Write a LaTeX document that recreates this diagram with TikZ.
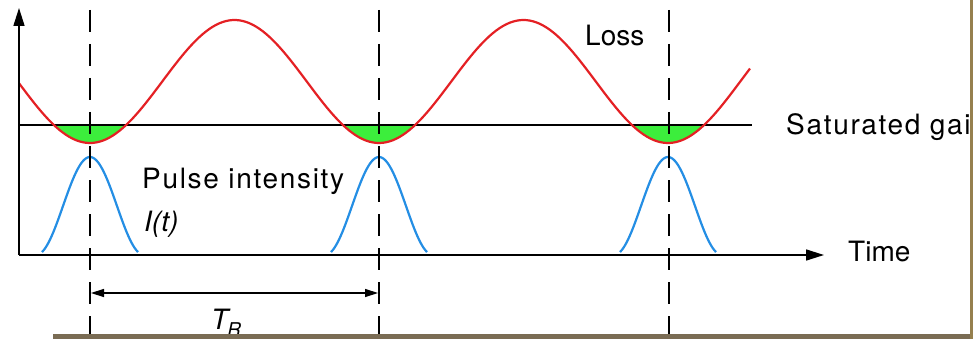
\documentclass[tikz,border=0pt]{standalone}
\usepackage{fontspec}
\setmainfont{TeX Gyre Heros}
\usepackage{tikz}
\usetikzlibrary{arrows.meta, positioning}

\definecolor{lossred}{RGB}{228,32,36}
\definecolor{pulseblue}{RGB}{36,142,228}
\definecolor{gaingreen}{RGB}{60,238,60}
\definecolor{bandbrown}{RGB}{122,108,84}
\definecolor{bandgold}{RGB}{150,128,78}

\begin{document}
\begin{tikzpicture}[x=1pt, y=-1pt, >={Triangle[length=18pt,width=11pt]},
    lbl/.style={font=\fontsize{28}{32}\selectfont, inner sep=0pt},
    widelbl/.style={lbl, font=\fontsize{28}{32}\selectfont\addfontfeatures{LetterSpace=6}},
    axis/.style={line width=1.6pt},
    curve/.style={line width=2.2pt},
    marker/.style={line width=1.4pt, dash pattern=on 22pt off 12pt}]
            \useasboundingbox (0,0) rectangle (973,339);

            \coordinate (O) at (19,255);
            \coordinate (ytop) at (19,8);
            \coordinate (xend) at (824,255);
            \coordinate (g1) at (19,125);
            \coordinate (g2) at (752,125);

            % gain windows
            \foreach \c in {90,379,668}
                \fill[gaingreen] plot[domain=\c-36.1:\c+36.1, samples=40]
                    (\x, {81.5+61.5*cos(1.24567*(\x-90))}) -- cycle;

            \draw[axis] (g1) -- (g2);
            \draw[curve, lossred] plot[domain=19:750, samples=220]
                (\x, {81.5+61.5*cos(1.24567*(\x-90))});

            \foreach \c in {90,379,668}
                \draw[curve, pulseblue] plot[domain=\c-48:\c+48, samples=60]
                    (\x, {255-98*cos(1.6667*(\x-\c))^2});

            \foreach \c [count=\i] in {90,379,669} {
                \coordinate (d\i) at (\c,10);
                \coordinate (e\i) at (\c,339);
                \draw[marker] (d\i) -- (e\i);
            }

            \draw[axis, ->] (O) -- (ytop);
            \draw[axis, ->] (O) -- (xend);

            \coordinate (tr1) at (91,293);
            \coordinate (tr2) at (378,293);
            \draw[line width=1.4pt, {Triangle[length=13pt,width=8pt]}-{Triangle[length=13pt,width=8pt]}] (tr1) -- (tr2);

            \node[lbl, anchor=base west] (loss) at (585,46) {Loss};
            \node[widelbl, anchor=base west] (gain) at (786,135) {Saturated gain};
            \node[widelbl, anchor=base west] (pulse) at (142,188) {Pulse intensity};
            \node[lbl, anchor=base west] (intens) at (144,231) {\textit{I(t)}};
            \node[lbl, anchor=base west] (time) at (848,261) {Time};
            \node[lbl, anchor=base west] (period) at (211,329)
                {\textit{T\kern-1pt\raisebox{-7pt}{\fontsize{19}{20}\selectfont R}}};

            \fill[bandbrown] (53,334) rectangle (973,339);
            \fill[bandgold] (970,0) rectangle (973,339);
        \end{tikzpicture}
\end{document}
